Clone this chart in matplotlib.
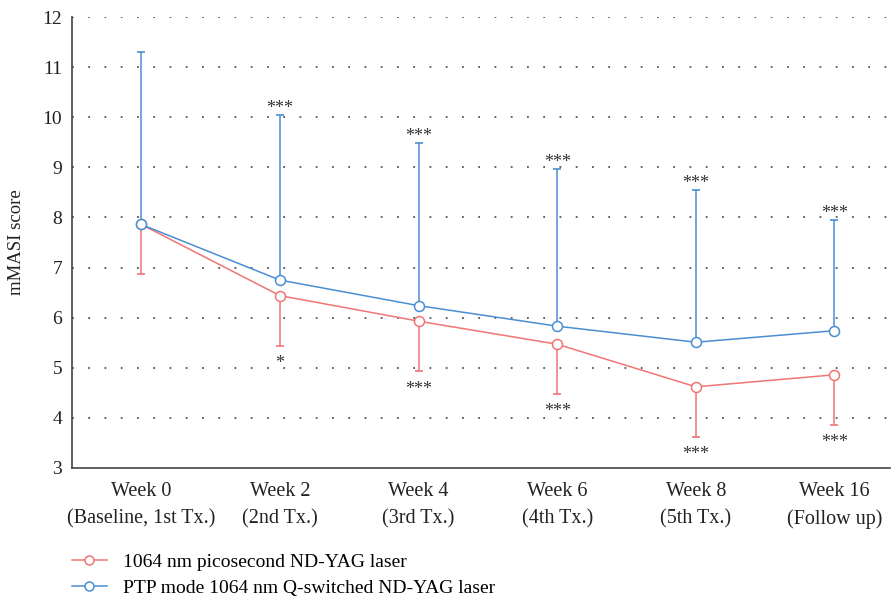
import matplotlib.pyplot as plt
import numpy as np

# Datos
semanas = ['Week 0\n(Baseline, 1st Tx.)', 'Week 2\n(2nd Tx.)', 'Week 4\n(3rd Tx.)',
           'Week 6\n(4th Tx.)', 'Week 8\n(5th Tx.)', 'Week 16\n(Follow up)']
pico = [7.86, 6.44, 5.93, 5.47, 4.62, 4.86]
pico_inf = [6.87, 5.44, 4.93, 4.48, 3.62, 3.86]
pico_sig = ['', '*', '***', '***', '***', '***']
qsw = [7.86, 6.75, 6.24, 5.83, 5.51, 5.74]
qsw_sup = [11.31, 10.05, 9.48, 8.96, 8.54, 7.94]
qsw_sig = ['', '***', '***', '***', '***', '***']

rojo = '#f07575'
azul = '#4a8ed3'

plt.rcParams['font.family'] = ['Liberation Serif', 'DejaVu Serif']

fig = plt.figure(figsize=(8.92, 6.01), dpi=100)
ax = fig.add_axes([0.0807, 0.2213, 0.917, 0.7504])
x = np.arange(len(semanas))

# barras de error (solo un lado)
ax.vlines(x, pico_inf, pico, color=rojo, lw=1.1, zorder=2)
ax.plot(x, pico_inf, ls='none', marker='_', ms=6, mew=1.2, color=rojo, zorder=2)
ax.vlines(x, qsw, qsw_sup, color=azul, lw=1.1, zorder=2)
ax.plot(x, qsw_sup, ls='none', marker='_', ms=6, mew=1.2, color=azul, zorder=2)

ax.plot(x, pico, color=rojo, lw=1.1, marker='o', ms=7.2, mfc='white', mew=1.1,
        label='1064 nm picosecond ND-YAG laser', zorder=3)
ax.plot(x, qsw, color=azul, lw=1.1, marker='o', ms=7.2, mfc='white', mew=1.1,
        label='PTP mode 1064 nm Q-switched ND-YAG laser', zorder=4)

# asteriscos de significación
for xi, v, s in zip(x, pico_inf, pico_sig):
    if s:
        ax.annotate(s, (xi, v), xytext=(0, -16), textcoords='offset points',
                    ha='center', va='baseline', fontsize=13, color='#333333')
for xi, v, s in zip(x, qsw_sup, qsw_sig):
    if s:
        ax.annotate(s, (xi, v), xytext=(0, 1.5), textcoords='offset points',
                    ha='center', va='baseline', fontsize=13, color='#333333')

ax.set_xlim(-0.5, 5.4)
ax.set_ylim(3, 12)
ax.set_yticks(range(3, 13))
ax.set_xticks(x)
ax.set_xticklabels(semanas, fontsize=14.5, color='#222222', linespacing=1.6)
ax.tick_params(axis='y', labelsize=14, labelcolor='#222222', pad=7)
ax.tick_params(axis='x', pad=10)
ax.tick_params(length=0)
ax.set_ylabel('mMASI score', fontsize=13.5, color='#222222')
ax.yaxis.set_label_coords(-0.057, 0.5)

for yv in range(4, 13):
    ax.axhline(yv, color='#555555', lw=1.3, ls=(0, (1, 8)), zorder=1)

for lado in ['top', 'right']:
    ax.spines[lado].set_visible(False)
for lado in ['left', 'bottom']:
    ax.spines[lado].set_color('#444444')
    ax.spines[lado].set_linewidth(1.2)

fig.legend(loc='center left', bbox_to_anchor=(0.0807, 1 - 575 / 601), frameon=False,
           fontsize=14, handlelength=1.8, handletextpad=0.82, labelspacing=0.45,
           borderpad=0, borderaxespad=0, markerscale=0.9)

plt.savefig('out.png', dpi=100)
